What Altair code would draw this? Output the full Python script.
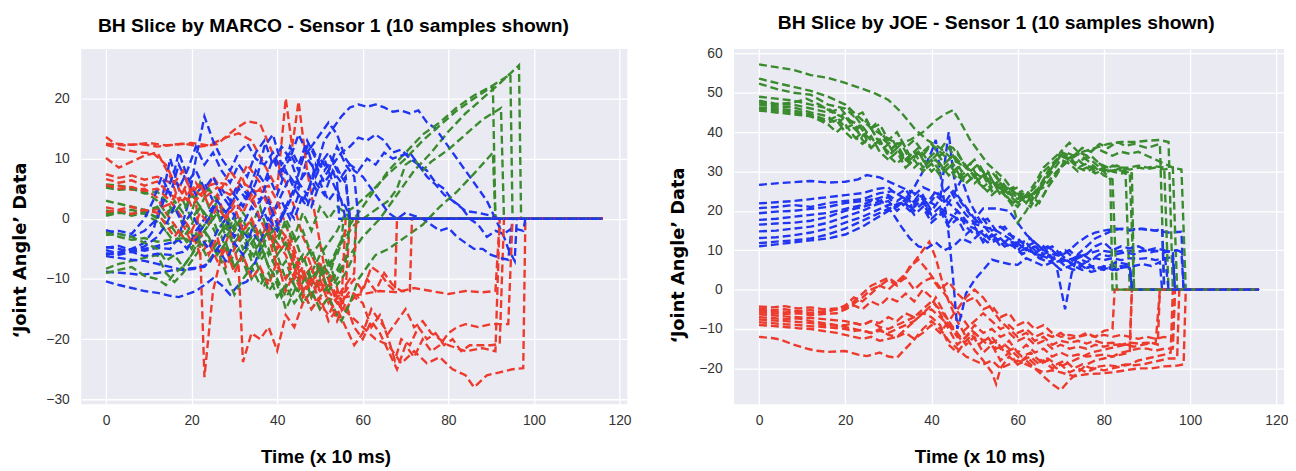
import altair as alt
import pandas as pd

# ---------------- data ----------------
X_TICKS = [0, 20, 40, 60, 80, 100, 120]
MARCO_Y_TICKS = [-30, -20, -10, 0, 10, 20]
JOE_Y_TICKS = [-20, -10, 0, 10, 20, 30, 40, 50, 60]

TITLES = ["BH Slice by MARCO - Sensor 1 (10 samples shown)",
          "BH Slice by JOE - Sensor 1 (10 samples shown)"]
X_TITLE = "Time (x 10 ms)"
Y_TITLE = "\u2018Joint Angle\u2019 Data"

COLORS = {"r": "#ee3a2c", "g": "#3a8a2e", "b": "#1f35f2"}

MARCO_RED = [
    [[0,13.6],[2,12.5],[6,12.3],[10,12.6],[14,12.2],[18,12.5],[22,12.0],[26,12.4],[30,14.8],[33,16.2],[36,15.8],[38,12.5],[40,9],[42,6],[44,2],[46,-3],[48,-6],[50,-9],[52,-12],[54,-14],[56,-13],[60,-12.5],[64,-12],[68,-12.2],[72,-11.5],[76,-12],[80,-12.5],[84,-12],[88,-12.2],[91,-12],[92,0],[116,0]],
    [[0,12.5],[4,12.2],[8,12.4],[12,12.0],[16,12.3],[20,12.6],[24,12.2],[28,13.5],[31,14.2],[34,13],[37,9],[40,5],[42,20],[43.5,12],[45,19.5],[47,8],[49,0],[51,-8],[54,-14],[57,-16],[60,-18],[63,-20],[66,-21],[69,-24],[72,-22],[75,-24],[78,-23],[81,-25],[84,-26],[86,-28],[89,-26],[92,-25.5],[95,-25],[97.5,-24.8],[98,0],[116,0]],
    [[0,10.1],[3,8.5],[6,9.5],[9,10.5],[12,11],[15,7],[17,3],[19,6],[21,3],[22,-5],[23,-26.3],[25,-12],[27,-6],[29,-2],[31,-8],[32,-23.8],[34,-19],[36,-20],[38,-18],[40,-21.9],[42,-16],[44,-18],[46,-14],[48,-12],[50,-15],[52,-13],[54,-16],[55,-14],[56,0],[116,0]],
    [[0,7.4],[3,6.8],[6,7.2],[9,6.5],[12,7.0],[15,6.0],[18,5.5],[20,2],[22,4],[24,5.5],[26,6],[28,5.8],[30,4],[32,6.5],[34,3],[36,5],[38,2],[40,-4],[42,-6],[44,-10],[46,-8],[48,-13],[50,-10],[52,-14],[54,-12],[56,-15],[58,-13],[60,-14],[62,-18],[64,-16],[66,-20],[67.5,-23.5],[69,-20],[71,-21],[73,-18],[75,-20],[77,-19],[79,-21],[81,-20],[83,-22],[85,-21],[87,-21],[90,-21],[92,-20.8],[93,0],[116,0]],
    [[0,6.6],[3,6.0],[6,6.4],[9,5.5],[12,6.2],[15,4],[18,3],[20,5],[23,3.5],[26,5.2],[29,4],[32,6],[35,4.5],[38,5.5],[40,3],[42,-1],[44,-5],[46,-9],[48,-11],[50,-7],[52,-13],[54,-17],[56,-14],[58,-18],[60,-20],[62,-17],[64,-19],[66,-22],[68,-25],[70,-21],[72,-23],[74,-20],[76,-22],[78,-21],[80,-19],[82,-18],[84,-17.5],[87,-18],[90,-17.5],[94,-17.5],[95,0],[116,0]],
    [[0,5.2],[3,5.5],[6,4.8],[9,5.0],[12,3.5],[14,1],[16,-1],[18,-3],[20,-2],[22,-6],[24,-4],[26,-7],[28,-5],[30,-9],[32,-6],[34,-10],[36,-8],[38,-11],[40,-7],[42,-12],[44,-9],[46,-13],[48,-10],[50,-12],[52,-11],[54,-13],[56,-12],[58,-10],[60,-12],[62,-8],[64,-9],[66,-11],[67.5,-12],[68,0],[116,0]],
    [[0,1.9],[3,1.5],[6,2.0],[9,1.2],[12,1.6],[15,2.5],[17,5],[19,3],[21,6],[23,4],[25,7],[27,5],[29,8],[31,6],[33,9],[35,7],[37,5],[39,2],[41,-2],[43,-4],[45,-8],[47,-6],[49,-10],[51,-12],[53,-9],[55,-14],[57,-12],[59,-13],[61,-10],[63,-12],[65,-9],[67,-11],[69,-12],[71,-12],[71.5,0],[116,0]],
    [[0,1.1],[3,1.4],[6,0.8],[9,1.5],[12,1.0],[14,-1],[16,-3],[18,-1],[20,-4],[22,-2],[24,-6],[26,-3],[28,-8],[30,-5],[32,-2],[34,0],[36,-3],[38,-1],[40,-5],[42,-3],[44,-7],[46,-10],[48,-8],[50,-12],[52,-10],[54,-13],[56,-11],[58,-9],[58.5,0],[116,0]],
    [[0,12.3],[4,11.5],[8,11],[11,10.9],[14,9],[16,6],[18,8],[20,4],[22,6],[24,2],[26,4],[28,0],[30,2],[32,-2],[34,0],[36,-4],[38,-2],[40,-6],[42,-4],[44,-8],[46,-12],[48,-10],[50,-14],[52,-16],[54,-13],[55,-15],[56,-12],[57,0],[116,0]],
    [[0,5.6],[3,5.0],[6,5.3],[9,4.6],[12,5.0],[15,3],[18,0],[20,-2],[22,1],[24,-1],[26,2],[28,0],[30,3],[32,1],[34,4],[36,0],[38,-3],[40,-8],[42,-10],[44,-6],[46,-12],[48,-15],[50,-13],[52,-17],[54,-15],[56,-18],[58,-21],[60,-19],[62,-15],[64,-17],[66,-19],[68,-17],[70,-15],[72,-18],[74,-17],[76,-19],[78,-20],[80,-21],[84,-22],[88,-21.5],[91,-22],[92,0],[116,0]],
]

MARCO_GREEN = [
    [[0,0.8],[3,1.2],[6,0.5],[9,1],[12,0.3],[15,-1],[17,-3],[19,-1],[21,-4],[23,-2],[25,-5],[27,-3],[29,-7],[31,-5],[33,-9],[35,-7],[37,-11],[39,-9],[41,-13],[43,-10],[45,-12],[47,-9],[49,-11],[51,-8],[53,-10],[55,-7],[57,-6],[60,-3],[64,0],[68,4],[72,8],[76,11],[80,14.5],[84,17.5],[88,20],[92,22.5],[95,24.5],[96.5,25.5],[97,0],[116,0]],
    [[0,5.7],[3,5.5],[6,5.2],[9,4.5],[12,3],[14,1],[16,2],[18,-1],[20,1],[22,6],[24,2],[26,-2],[28,0],[30,-4],[32,-2],[34,-6],[36,-4],[38,-8],[40,-10],[42,-15],[44,-12],[46,-9],[48,-11],[50,-8],[52,-10],[54,-5],[56,-2],[58,0],[62,4],[66,8],[70,11],[74,14],[78,16],[82,18.5],[86,20.5],[90,22],[94.5,24],[95,0],[116,0]],
    [[0,3],[3,2.5],[6,2],[9,1.5],[12,0],[14,-2],[16,-4],[18,-3],[20,-5],[22,-2],[24,0],[26,-3],[28,-1],[30,-5],[32,-3],[34,-7],[36,-4],[38,-8],[40,-6],[42,-10],[44,-8],[46,-12],[48,-9],[50,-6],[52,-4],[54,-2],[56,1],[58,2],[62,4.5],[66,7.5],[70,10],[74,13],[78,15.5],[82,18],[86,20],[90.4,22],[91,0],[116,0]],
    [[0,1.4],[3,1],[6,1.5],[9,0.8],[12,-0.5],[14,-2],[16,-1],[18,-3],[20,-4],[22,-1],[24,-3],[26,-6],[28,-4],[30,-8],[32,-6],[34,-4],[36,-7],[38,-5],[40,-9],[42,-7],[44,-11],[46,-9],[48,-13],[50,-10],[52,-8],[54,-5],[56,-3],[58,-1],[62,1],[66,3],[68,5],[70,9],[72,10],[74,8],[76,9.5],[80,11.5],[84,14],[88,16.5],[92.3,18.4],[93,0],[116,0]],
    [[0,-8.3],[3,-7.5],[6,-7],[9,-6.5],[12,-6],[14,-9],[16,-10.5],[18,-9],[20,-7],[22,-5],[24,-3],[26,-6],[28,-4],[30,-8],[32,-6],[34,-10],[36,-8],[38,-12],[40,-10],[42,-13],[44,-11],[46,-14],[48,-12],[50,-15],[52,-13],[54,-16],[55,-17],[57,-14],[59,-10],[61,-8],[63,-6],[66,-5],[70,-3],[74,-1],[78,2],[82,4.5],[86,7.5],[90.4,11],[91,0],[116,0]],
    [[0,5.2],[3,4.8],[6,5],[9,4.2],[12,4.5],[14,3],[16,1],[18,3],[20,0],[22,2],[24,-1],[26,1],[28,-3],[30,-1],[32,-5],[34,-3],[36,-6],[38,-2],[40,-4],[42,0],[44,-3],[46,1],[48,-2],[50,2],[52,0],[54,2],[56,1],[57,0],[116,0]],
    [[0,0.5],[3,1],[6,0.8],[9,1.2],[12,2],[14,0],[16,3],[18,1],[20,4],[22,2],[24,5],[26,3],[28,0],[30,-2],[32,1],[34,-1],[36,2],[38,-3],[40,-1],[42,-5],[44,-3],[46,-7],[48,-5],[50,-9],[52,-7],[54,-11],[56,-9],[58,-6],[58.5,0],[116,0]],
    [[0,-2.2],[3,-3],[6,-3.5],[9,-3.2],[12,-3.8],[15,-3.5],[18,-3.2],[20,-1],[22,2],[24,0],[26,3],[28,1],[30,-2],[32,0],[34,-4],[36,-2],[38,-6],[40,-3],[42,-1],[44,-4],[46,-2],[48,-6],[50,-4],[52,-8],[54,-6],[55,-4],[55.5,0],[116,0]],
    [[0,-2.7],[3,-2.5],[6,-3],[9,-4],[12,-5],[14,-7],[16,-6],[18,-8],[20,-6],[22,-4],[24,-7],[26,-5],[28,-9],[30,-12.6],[32,-10],[34,-8],[36,-11],[38,-9],[40,-13],[42,-11],[44,-14],[46,-12],[48,-15],[50,-13],[52,-11],[54,-9],[56,-7],[57,0],[116,0]],
    [[0,-9],[3,-8.5],[6,-8],[9,-9.5],[12,-10],[14,-11],[16,-9],[18,-8],[20,-6],[22,-3],[24,-1],[26,1],[28,-2],[30,0],[32,-3],[34,-1],[36,-4],[38,-2],[40,-6],[42,-4],[44,-8],[46,-6],[48,-10],[50,-8],[52,-12],[54,-10],[56,-7],[57,0],[116,0]],
]

MARCO_BLUE = [
    [[0,-10.4],[3,-11],[6,-11.5],[9,-12],[12,-12.3],[15,-12.8],[17,-13],[19,-12.5],[21,-12],[23,-11],[25,-9.9],[27,-11],[29,-12.6],[31,-11],[33,-10.4],[35,-7],[37,-3],[39,1],[41,4],[43,7],[45,5],[47,10],[49,8],[51,13],[53,15],[55,17],[57,18.5],[59,19],[61,18.6],[63,19],[65,18.5],[67,17.8],[69,18],[71,17.5],[73,18],[75,16],[77,15],[79,13],[81,11],[83,9],[85,7],[87,5],[89,3],[91,0],[93,-3],[94,-5],[95.5,-7],[96,0],[116,0]],
    [[0,-8.8],[4,-9],[8,-9.3],[12,-9],[16,-8.5],[20,-8.2],[23,-8],[25,-6],[27,-4],[29,-1],[31,2],[33,4],[35,2],[37,4],[39,1],[41,3],[43,0],[45,4],[47,2],[49,6],[51,4],[53,8],[55,6],[56,7],[57,0],[116,0]],
    [[0,-6],[3,-5.5],[6,-5],[9,-5.3],[12,-4.8],[15,-5],[17,-3],[19,2],[21,10],[23,17],[25,13],[27,10],[29,8],[31,11],[33,12.5],[35,10],[37,9],[39,11],[41,8],[43,10],[45,6],[47,8],[49,5],[51,7],[53,9],[55,11],[57,12],[59,13.5],[61,13],[63,14],[65,13],[67,11],[69,11.5],[71,10],[73,9],[75,8],[77,6],[79,5],[81,3],[83,2],[85,0],[87,-1],[89,-3],[91,-2],[93,-2.5],[95,-1.5],[97.5,-2],[98,0],[116,0]],
    [[0,-5.2],[3,-5.8],[6,-5],[9,-4],[11,-2],[13,3],[15,10],[17,5],[19,8],[21,12],[23,9],[25,11],[27,8],[29,6],[31,9],[33,7],[35,11],[37,13],[39,9],[41,12],[43,10],[45,14],[47,11],[49,13],[51,15],[52,16],[54,14],[56,10],[58,8],[60,7],[62,5],[64,3],[66,1],[68,0],[70,1],[72,0.5],[74,0],[76,-1],[78,-2],[80,-1.5],[82,-3],[84,-4],[86,-5],[88,-5],[90,-6],[92,-6.5],[94,-6.8],[95,0],[116,0]],
    [[0,-4.7],[3,-5],[6,-5.5],[9,-5],[12,-4.5],[15,-4],[17,-3.5],[19,-5],[21,-2],[23,0],[25,2],[27,5],[29,3],[31,6],[33,4],[35,8],[37,6],[39,10],[41,7],[43,12],[45,9],[47,13],[49,10],[51,8],[53,10],[55,7],[57,9],[59,8],[61,10],[63,9],[65,11],[67,10],[69,10.5],[71,11],[73,9],[75,7],[77,5.7],[79,4],[81,3],[84,1.3],[87,1],[90,0.5],[92,0],[116,0]],
    [[0,-1.9],[3,-2.5],[6,-3],[9,-2],[12,0],[14,4],[16,8],[17,11],[19,7],[21,4],[23,6],[25,3],[27,0],[29,2],[31,-1],[33,-3],[35,-1],[37,1],[39,-2],[41,0],[43,3],[45,6],[47,4],[49,9],[51,6],[53,8],[54,6],[54.5,0],[116,0]],
    [[0,-2.2],[3,-2],[6,-2.5],[9,0],[11,3],[13,7],[15,4],[17,9],[19,6],[21,8],[23,5],[25,7],[27,4],[29,2],[31,5],[33,3],[35,6],[37,12],[39,14],[41,9],[43,11],[45,8],[47,12],[49,7],[51,10],[53,6],[55,3],[56,2],[57,0],[116,0]],
    [[0,-5.7],[3,-6],[6,-5.5],[9,-6.2],[12,-5.8],[15,-6],[18,-5.5],[20,-4],[22,-3],[24,-5],[26,-2],[28,0],[30,-3],[32,-1],[34,2],[36,0],[38,3],[40,-1],[42,2],[44,5],[46,3],[48,6],[50,10],[52,8],[54,12],[56,9],[58,7],[59,0],[116,0]],
    [[0,-6.2],[3,-6.5],[6,-6.8],[9,-7],[12,-7.5],[15,-8],[18,-8.5],[21,-8.3],[24,-7.5],[26,-5],[28,-7],[30,-4],[32,-6],[34,-2],[36,-4],[38,0],[40,-2],[42,2],[44,0],[46,4],[48,2],[50,6],[52,3],[54,5],[55,3],[56,0],[116,0]],
    [[0,-4.8],[3,-4.5],[6,-5.2],[9,-4.6],[12,-3],[14,-1],[16,2],[18,-1],[20,1],[22,-2],[24,0],[26,3],[28,1],[30,4],[32,2],[34,5],[36,3],[38,7],[40,4],[42,8],[44,5],[46,10],[48,12],[50,9],[52,11],[54,8],[56,6],[57,0],[116,0]],
]

JOE_RED = [
    [[0,-12],[3,-12.3],[5,-12.7],[8,-14],[10.5,-14.8],[13,-15.5],[16,-15.8],[20,-15.6],[23,-16.5],[25,-16.9],[28,-16],[30,-17],[32,-17.3],[34,-15],[36,-12.7],[38,-10],[40,-8],[42,-10],[44,-13],[46,-15],[48,-17],[50,-18],[52,-19],[54,-18],[56,-20],[58,-19],[60,-18],[62,-19],[64,-20],[66,-21],[68,-20.5],[70,-21],[73,-22],[76,-21.5],[79,-21.3],[82,-21],[85,-20.5],[88,-20],[91,-20],[94,-19.5],[97,-19.3],[98.5,-19],[99,0],[116,0]],
    [[0,-4.3],[3,-4.5],[6,-4.2],[9,-4.8],[12,-4.5],[15,-5],[18,-4.8],[20,-5],[22,-3.5],[24,-2],[26,0],[28,1],[30,2.5],[32,1],[34,4],[36,7],[38,10],[39.5,12.2],[41,8],[42,4],[43,0],[44,-3],[46,-8],[48,-12],[50,-15.4],[52,-18],[54,-21],[55,-24],[56,-20],[58,-17],[60,-19],[62,-18],[64,-20],[66,-22],[68,-24],[70,-25.5],[72,-23],[74,-21],[76,-19],[78,-18],[80,-17.5],[82,-17],[84,-16],[86,-15.5],[88,-15],[90,-15],[92,-15.5],[94,-15],[96,-15],[96.5,0],[116,0]],
    [[0,-4.8],[3,-5.2],[6,-5],[9,-5.5],[12,-5.2],[15,-5.8],[18,-5],[20,-4],[22,-2],[24,-3],[26,-1],[28,1],[30,0],[32,2],[34,4],[35,5.9],[37,7.6],[39,5],[41,2],[43,-1],[45,-4],[47,-7],[49,-10],[51,-12],[53,-14],[55,-13],[57,-16],[59,-15],[61,-17],[63,-16],[65,-18],[67,-17.5],[69,-19],[71,-18],[73,-20],[75,-19],[77,-20],[79,-19.5],[81,-19.2],[83,-19.5],[85,-19],[87,-19.2],[89,-19],[91,-18.5],[93,-18],[95,-17.5],[97,-17.5],[97.5,0],[116,0]],
    [[0,-5.3],[3,-5.5],[6,-5.8],[9,-5.5],[12,-6],[15,-5.5],[18,-5],[20,-4.5],[22,-3],[24,-1],[26,1],[28,2],[30,3],[32,1.5],[34,3],[36,0],[38,2],[40,3],[42,0],[44,2],[46,-1],[48,-3],[50,-2],[52,-5],[54,-4],[56,-7],[58,-6],[60,-9],[62,-8],[64,-10],[66,-9],[68,-11],[70,-12],[72,-11.5],[74,-12],[76,-11],[78,-12],[80,-11.5],[82,-12],[84,-11.5],[86,-12],[88,-12.5],[90,-12],[92,-12.5],[94,-12],[96,-12.5],[96.5,0],[116,0]],
    [[0,-5.8],[3,-6],[6,-6.2],[9,-6],[12,-6.5],[15,-6.2],[18,-6],[20,-5],[22,-4],[24,-5],[26,-3],[28,-4],[30,-2],[32,-3],[34,-1],[36,-3],[38,0],[40,-2],[42,-6],[44,-10],[46,-14],[48,-12],[50,-9],[52,-11],[54,-10],[56,-12],[58,-11],[60,-13],[62,-12],[64,-14],[66,-13],[68,-15],[70,-14],[72,-15],[74,-14.5],[76,-15],[78,-14],[80,-14.5],[82,-14],[84,-14],[86,-14],[86.5,0],[116,0]],
    [[0,-6.3],[3,-6.5],[6,-6.8],[9,-7],[12,-7.2],[15,-7.5],[18,-7.8],[20,-8],[22,-8.5],[24,-9],[26,-8],[28,-9.5],[30,-10],[32,-9],[34,-8],[36,-7],[38,-6],[40,-5],[42,-7],[44,-9],[46,-12],[48,-10],[50,-8],[52,-6],[54,-8],[56,-10],[58,-9],[60,-11],[62,-10],[64,-12],[66,-11],[68,-12],[70,-11],[72,-12.5],[74,-12],[76,-11.5],[78,-12],[80,-10.5],[82,-10],[82.5,0],[116,0]],
    [[0,-7],[3,-7.2],[6,-7.5],[9,-7.3],[12,-8],[15,-8.5],[18,-9],[20,-9.5],[22,-10],[24,-10.5],[26,-11],[28,-10],[30,-11.5],[32,-12],[34,-11],[36,-12.5],[38,-11],[40,-9],[42,-11],[44,-8],[46,-5],[48,-2],[50,0],[52,-2],[54,-5],[56,-8],[58,-10],[60,-12],[62,-11],[64,-13],[66,-12],[68,-14],[70,-13],[72,-13.5],[74,-13],[76,-13.7],[78,-13],[80,-13.7],[82,-13.5],[84,-14],[86,-13.5],[88,-13.7],[90,-13.5],[92,-13.7],[93,0],[116,0]],
    [[0,-7.6],[3,-7.8],[6,-8],[9,-8.2],[12,-8.5],[15,-9],[18,-9.2],[20,-9],[22,-8.5],[24,-9],[26,-8],[28,-8.5],[30,-7],[32,-8],[34,-6],[36,-7],[38,-5],[40,-3],[42,-5],[44,-8],[46,-11],[48,-14],[50,-12],[52,-16],[54,-14],[56,-18],[58,-16],[60,-19],[62,-17],[64,-19],[66,-18],[68,-20],[70,-19],[72,-21],[74,-20],[76,-21],[78,-20],[80,-20.5],[82,-20],[84,-19.5],[86,-19],[88,-18],[90,-17.5],[92,-17],[94,-16.5],[95.5,-16],[96,0],[116,0]],
    [[0,-8.3],[3,-8.5],[6,-8.8],[9,-9],[12,-9.3],[15,-9.5],[18,-9.8],[20,-10],[22,-10.5],[24,-10.2],[26,-11],[28,-10.5],[30,-11],[32,-10],[34,-9],[36,-8],[38,-6],[40,-7],[42,-9],[44,-14],[46,-16],[48,-13],[50,-11],[52,-13],[54,-12],[56,-15],[58,-13],[60,-16],[62,-14],[64,-16],[66,-15],[68,-17],[70,-16],[72,-17],[74,-16.5],[76,-17],[78,-16.8],[80,-16.5],[82,-17],[84,-16.5],[86,-16],[86.5,0],[116,0]],
    [[0,-9],[3,-9.2],[6,-9.5],[9,-9.8],[12,-10],[15,-10.5],[18,-11],[20,-11.5],[22,-12],[24,-12.5],[26,-12],[28,-13],[30,-12.5],[32,-12],[34,-10],[36,-8],[38,-6],[40,-4],[41,-2],[43,-6],[45,-10],[47,-13],[49,-11],[51,-14],[53,-12],[55,-15],[57,-14],[59,-16],[61,-18],[63,-17],[65,-19],[67,-18],[69,-20],[71,-19],[73,-18],[75,-17],[77,-16],[79,-15.5],[81,-15],[83,-14.5],[85,-14],[87,-14.5],[89,-14],[91,-13.5],[92.5,-14],[93,0],[116,0]],
]

JOE_GREEN = [
    [[0,57.2],[4,56.5],[8,55.8],[12,54.5],[16,53.8],[20,52.5],[24,51],[27,49.8],[30,48.2],[33,45],[36,41],[39,38],[42,36],[45,33],[48,31],[51,29],[54,27],[57,25],[60,23],[63,24],[66,26],[69,30],[72,33],[75,35],[78,36],[81,37],[84,37.5],[87,37.5],[90,37.8],[93,38],[95,37.5],[96,0],[116,0]],
    [[0,53.6],[4,52.5],[8,51.5],[12,50.5],[16,49],[20,47],[23,44],[26,41],[29,39],[32,37],[35,38],[38,40],[41,43],[43,44.5],[45,45.6],[47,42],[49,38],[51,35],[53,32],[55,30],[57,28],[59,25],[61,23],[63,21],[65,25],[67,29],[69,33],[71,35],[73,34],[75,36],[77,35],[79,37],[81,36],[83,37.5],[85,36.5],[87,37],[90,36],[93,37],[94,0],[116,0]],
    [[0,52.3],[4,51],[8,50],[12,49.5],[16,47],[20,46],[22,44],[24,45],[26,41],[28,42],[30,38],[32,40],[34,36],[36,38],[38,35],[40,37],[42,34],[44,36],[46,33],[48,31],[50,29],[52,30],[54,26],[56,28],[58,25],[60,26],[62,22],[64,25],[66,27],[68,30],[70,33],[72,32],[74,30],[76,31],[78,29.5],[80,30.5],[82,30],[84,31],[86,30.5],[88,31],[90,30.6],[92,31],[94,30.5],[96,31],[97,0],[116,0]],
    [[0,49],[4,48.5],[8,48],[12,47],[16,46],[19,44],[21,46],[23,43],[25,40],[27,42],[29,38],[31,36],[33,38],[35,34],[37,36],[39,33],[41,35],[43,32],[45,34],[47,30],[49,32],[51,28],[53,30],[55,26],[57,24],[59,21],[60,17],[62,20],[64,24],[66,28],[68,31],[70,34],[72,33],[74,34.5],[76,33],[78,31],[80,29],[82,28],[83,0],[116,0]],
    [[0,48],[4,47.2],[8,47.5],[11,48.5],[14,47],[17,45],[20,43.5],[23,42],[25,39],[27,37],[29,39],[31,35],[33,37],[35,33],[37,35],[39,32],[41,34],[43,37],[45,36],[47,33],[49,30],[51,32],[53,28],[55,29],[57,25],[59,26],[61,23],[63,24],[65,22],[67,26],[69,29],[71,33],[73,34],[75,32],[77,31],[79,32],[81,30],[83,30.5],[85,30],[86.5,29.5],[87,0],[116,0]],
    [[0,47.5],[4,47],[8,47],[12,46],[16,45],[19,46],[21,43],[23,41],[25,43],[27,39],[29,36],[31,38],[33,34],[35,32],[37,35],[39,31],[41,33],[43,30],[45,32],[47,28],[49,30],[51,27],[53,25],[55,27],[57,24],[59,22],[61,25],[63,23],[65,26],[67,30],[69,33],[71,34],[73,32],[75,33],[77,34],[79,32],[81,31],[83,31.5],[85,30.5],[86,0],[116,0]],
    [[0,47],[4,46.5],[8,46.3],[12,45],[16,44],[18,42],[20,44],[22,41],[24,39],[26,41],[28,37],[30,35],[32,37],[34,33],[36,35],[38,34],[40,37],[42,35],[44,33],[46,35],[48,31],[50,33],[52,29],[54,30],[56,27],[58,25],[60,22],[62,24],[64,27],[66,31],[68,33],[70,35],[72,34],[74,31],[76,30],[78,31],[80,30],[82,31.5],[84,31],[86,31],[88,31.5],[90,31],[92,31.3],[94,31],[95,0],[116,0]],
    [[0,46.3],[4,46],[8,45.5],[12,44.5],[16,43],[18,44],[20,41],[22,42],[24,38],[26,36],[28,38],[30,34],[32,36],[34,33],[36,35],[38,31],[40,33],[42,30],[44,32],[46,29],[48,27],[50,29],[52,26],[54,24],[56,26],[58,23],[60,21],[62,24],[64,26],[66,30],[68,32],[70,34],[72,33],[74,35],[76,34],[78,36],[80,35],[82,34],[84,35],[86,34.5],[88,35],[90,34],[92,33],[94,32],[96,31],[98,30.5],[99,0],[116,0]],
    [[0,46],[4,45.5],[8,45],[12,44],[16,42],[18,40],[20,42],[22,39],[24,37],[26,39],[28,35],[30,33],[32,35],[34,31],[36,33],[38,30],[40,32],[42,29],[44,31],[46,28],[48,30],[50,27],[52,29],[54,25],[56,27],[58,24],[60,22],[62,24],[64,21],[66,24],[68,28],[70,31],[72,33],[74,31],[76,32],[78,30],[80,31],[82,30],[84,29.5],[86,30],[87,0],[116,0]],
    [[0,45.5],[4,45],[8,44.5],[12,44],[16,42.5],[18,43],[20,40],[22,38],[24,40],[26,36],[28,38],[30,34],[32,32],[34,34],[36,31],[38,33],[40,30],[42,32],[44,29],[46,31],[48,27],[50,29],[52,26],[54,28],[56,24],[58,26],[60,23],[62,25],[64,23],[66,27],[68,31],[70,35],[72,37.3],[74,35],[76,34],[78,32],[80,30],[81.5,28],[82,0],[116,0]],
]

JOE_BLUE = [
    [[0,26.6],[4,27],[8,27.3],[12,27.6],[16,27.2],[20,27.4],[23,28],[25,29.1],[28,28.5],[31,27],[34,25.5],[37,24],[40,22],[43,20],[46,18],[49,17],[52,16],[55,15],[58,13],[61,11],[64,9],[67,8.5],[70,7],[73,8],[76,9],[79,10],[82,9.5],[85,10],[88,9.7],[91,10],[94,9.5],[96,9.8],[96.5,0],[116,0]],
    [[0,21.9],[4,22.2],[8,22.5],[12,23],[16,23.5],[20,24],[24,24.5],[27,25.5],[30,26],[32,24],[34,25.5],[36,22],[38,24],[40,20],[42,23],[44,40],[45,30],[46,24],[48,21],[50,18],[52,20.6],[55,20.6],[58,20],[60,17],[62,14],[64,12],[66,10],[68,9],[70,8.5],[72,10],[74,12],[76,13.5],[78,14.5],[80,15],[83,15.5],[86,15],[89,15.5],[92,15],[95,14.5],[98,14.7],[98.5,0],[116,0]],
    [[0,20.7],[4,21],[8,21.5],[12,21],[16,22],[20,22.5],[24,23],[28,24.5],[31,25],[34,23],[36,26],[38,30],[40,35],[41,38],[42,30],[43,22],[44,14],[45,3],[46,-10],[47,-6],[48,-1],[50,2.5],[52,5],[54,7.6],[56,7],[58,6.5],[60,6.3],[62,8],[64,7],[66,6],[68,7],[70,5],[72,6],[74,7],[76,5.5],[78,6],[80,5],[82,6],[84,5.5],[86,6],[86.5,0],[116,0]],
    [[0,19.4],[4,19.8],[8,20],[12,20.5],[16,21],[20,22],[24,22.5],[27,23],[29,22],[31,19.4],[33,16],[35,13],[37,11],[39,10.5],[41,12],[43,10],[45,11],[47,13],[49,12],[51,14],[53,12],[55,13],[57,11],[59,12],[61,10],[63,11],[65,9],[67,8],[69,6],[71,-5],[72.5,4],[74,9],[76,11],[78,13],[80,14],[82,15],[84,15.5],[86,15.2],[88,15.5],[90,15.2],[92,15],[93.5,15.5],[94,0],[116,0]],
    [[0,17.7],[4,18],[8,18.5],[12,19],[16,19.5],[20,20.5],[24,21.5],[27,23],[30,24],[32,22.5],[34,24],[36,21],[38,23],[40,19],[42,21],[44,17],[46,20],[48,16],[50,14],[52,15],[54,12],[56,13],[58,11],[60,12],[62,10],[64,11],[66,9],[68,10],[70,8],[72,7],[74,8],[76,7],[78,8],[80,7.5],[82,8],[84,7.5],[86,8],[88,7.8],[90,8],[92,7.5],[94,8],[96,8.2],[96.5,0],[116,0]],
    [[0,16.5],[4,16.8],[8,17],[12,17.5],[16,18.5],[20,20],[24,21],[27,22],[30,23.5],[32,21],[34,23],[36,20],[38,22],[40,18],[42,20],[44,16],[46,18],[48,14],[50,16],[52,12],[54,14],[56,11],[58,13],[60,10],[62,12],[64,9],[66,11],[68,8],[70,9],[72,7],[74,6],[76,7],[78,5],[80,6],[82,5],[84,6],[86,5.5],[87,0],[116,0]],
    [[0,14.8],[4,15],[8,15.5],[12,16],[16,17],[20,18.5],[24,20],[27,21.5],[30,22.5],[32,20],[34,22],[36,19],[38,21],[40,17],[42,19],[44,22],[46,26],[47,28],[49,22],[51,18],[53,15],[55,13],[57,11],[59,12],[61,9],[63,10],[65,8],[67,9],[69,7],[71,8],[73,6],[75,5],[77,6],[79,5.5],[81,6],[83,7],[85,6.5],[87,6],[89,6.5],[91,6],[93,7],[93.5,0],[116,0]],
    [[0,13.1],[4,13.3],[8,13.8],[12,14.5],[16,15.5],[20,17],[24,18.5],[27,20],[30,21.5],[33,22],[35,20],[37,23],[39,21],[41,24],[43,22],[45,25],[47,22],[49,19],[51,17],[53,18],[55,15],[57,16],[59,13],[61,12],[63,13],[65,10],[67,11],[69,9],[71,10],[73,8],[75,9],[77,7.5],[79,9],[81,8.5],[83,9],[85,9.5],[87,9],[89,10],[91,9.5],[93,10],[95,9.7],[97,10],[98,9.5],[98.5,0],[116,0]],
    [[0,11.8],[4,12.2],[8,12.5],[12,13],[16,14],[20,15.5],[24,17.5],[27,19],[30,20.5],[33,22],[35,21],[37,24],[39,22],[41,25],[43,23],[45,21],[47,19],[49,16],[51,15],[53,13],[55,14],[57,12],[59,11],[61,9],[63,10],[65,8],[67,7],[69,8],[71,6],[73,5],[75,6],[77,4.5],[79,5],[81,5.5],[83,5],[85,6],[86,5.5],[86.5,0],[116,0]],
    [[0,11],[4,11.5],[8,12],[12,12.5],[16,13],[20,14],[24,16],[27,18],[30,20],[33,22],[36,24],[38,26],[40,25],[42,24],[44,26],[46,22],[48,19],[50,17],[52,18],[54,15],[56,16],[58,14],[60,13],[62,11],[64,12],[66,10],[68,11],[70,9],[72,10],[74,8],[76,9],[78,11],[80,12],[82,10],[84,11],[86,10.5],[88,11],[90,10],[92,10.5],[94,10],[95,0],[116,0]],
]

FONT = "Liberation Sans"
YFONT = "DejaVu Sans"


def to_frame(series, tag):
    return pd.DataFrame([{"t": t, "v": v, "sid": tag, "i": i}
                         for i, (t, v) in enumerate(series)])


def panel(red, green, blue, title, ydom, yticks, width, dx, xtitle_x, ytitle_y, ytitle_pad):
    xs = alt.Scale(domain=[-5.8, 121.8], nice=False, zero=False)
    ys = alt.Scale(domain=ydom, nice=False, zero=False)
    layers = []
    # drawn sample by sample: red, green, blue of each sample in turn
    for k in range(10):
        for key, group in (("r", red), ("g", green), ("b", blue)):
            df = to_frame(group[k], f"{key}{k}")
            layers.append(
                alt.Chart(df).mark_line(
                    color=COLORS[key], strokeWidth=2.4, strokeDash=[8, 4]
                ).encode(
                    x=alt.X("t:Q", scale=xs,
                            axis=alt.Axis(values=X_TICKS, title=X_TITLE, titleX=xtitle_x,
                                          titlePadding=20, labelPadding=10,
                                          titleFont=FONT, titleFontSize=19)),
                    y=alt.Y("v:Q", scale=ys,
                            axis=alt.Axis(values=yticks, title=Y_TITLE, titleY=ytitle_y,
                                          titlePadding=ytitle_pad, labelPadding=12,
                                          titleFont=YFONT, titleFontSize=18)),
                    order="i:Q",
                )
            )
    return alt.layer(*layers).properties(
        width=width, height=359,
        title=alt.TitleParams(title, font=FONT, fontSize=19.5, fontWeight="bold",
                              color="black", anchor="middle", dx=dx, offset=13),
    )


left = panel(MARCO_RED, MARCO_GREEN, MARCO_BLUE, TITLES[0], [-30.8, 28.2],
             MARCO_Y_TICKS, 552, -21, 247, 203, 17)
right = panel(JOE_RED, JOE_GREEN, JOE_BLUE, TITLES[1], [-29.1, 61.1],
              JOE_Y_TICKS, 556, -13, 248, 208, 11)

chart = alt.hconcat(left, right, spacing=39).properties(
    padding={"left": 3, "top": 2, "right": 0, "bottom": 0}
).configure_view(
    fill="#EAEAF2", stroke=None
).configure_axis(
    domain=False, ticks=False, grid=True, gridColor="white", gridWidth=1.3,
    labelFont=FONT, labelFontSize=14, labelColor="#333333",
    titleFontWeight="bold", titleColor="black",
)

chart.save("out.html", embed_options={"renderer": "svg", "actions": False})
